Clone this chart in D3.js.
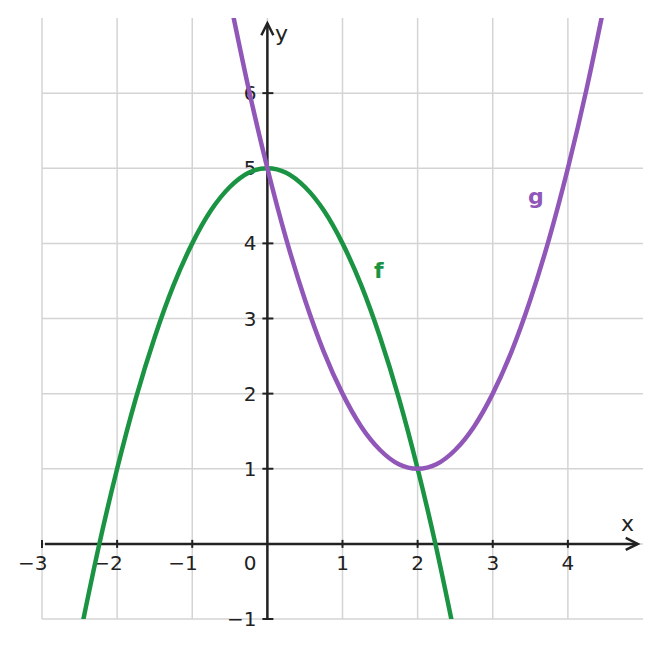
<!DOCTYPE html>
<html><head><meta charset="utf-8">
<script src="https://cdn.jsdelivr.net/npm/d3@7"></script>
<style>body{margin:0;background:#fff}svg{display:block}text{font-family:"DejaVu Sans",sans-serif}</style>
</head><body>
<svg id="c" width="661" height="648"></svg>
<script>
// data
const fX = [-2.5,-2.25,-2,-1.75,-1.5,-1.25,-1,-0.75,-0.5,-0.25,0,0.25,0.5,0.75,1,1.25,1.5,1.75,2,2.25,2.5];
const fY = [-1.25,-0.06,1,1.94,2.75,3.44,4,4.44,4.75,4.94,5,4.94,4.75,4.44,4,3.44,2.75,1.94,1,-0.06,-1.25];
const gX = [-0.5,-0.25,0,0.25,0.5,0.75,1,1.25,1.5,1.75,2,2.25,2.5,2.75,3,3.25,3.5,3.75,4,4.25,4.5];
const gY = [7.25,6.06,5,4.06,3.25,2.56,2,1.56,1.25,1.06,1,1.06,1.25,1.56,2,2.56,3.25,4.06,5,6.06,7.25];
const xTicks = [-3,-2,-1,1,2,3,4];
const yTicks = [-1,1,2,3,4,5,6];
const xGrid = [-3,-2,-1,0,1,2,3,4];
const yGrid = [-1,0,1,2,3,4,5,6];

const svg = d3.select("#c");
const x = d3.scaleLinear().domain([-3,5]).range([42,643]);
const y = d3.scaleLinear().domain([-1,7]).range([619,18]);
const ink = "#222";
const fs = 20;

// grid
svg.append("g").selectAll("line").data(xGrid).join("line")
  .attr("x1",d=>x(d)).attr("x2",d=>x(d)).attr("y1",y(-1)).attr("y2",y(7))
  .attr("stroke","#d4d4d4").attr("stroke-width",1.5);
svg.append("g").selectAll("line").data(yGrid).join("line")
  .attr("x1",x(-3)).attr("x2",x(5)).attr("y1",d=>y(d)).attr("y2",d=>y(d))
  .attr("stroke","#d4d4d4").attr("stroke-width",1.5);

// axes
const ax = svg.append("g").attr("stroke",ink).attr("stroke-width",2.5).attr("fill","none");
ax.append("line").attr("x1",x(-3)+3).attr("x2",x(4.93)).attr("y1",y(0)).attr("y2",y(0));
ax.append("line").attr("x1",x(0)).attr("x2",x(0)).attr("y1",y(-1)).attr("y2",y(6.93));
ax.append("path").attr("d",`M${x(4.93)-12},${y(0)-6}L${x(4.93)},${y(0)}L${x(4.93)-12},${y(0)+6}`);
ax.append("path").attr("d",`M${x(0)-6},${y(6.93)+12}L${x(0)},${y(6.93)}L${x(0)+6},${y(6.93)+12}`);
ax.selectAll(".xt").data(xTicks).join("line").attr("class","xt")
  .attr("x1",d=>x(d)).attr("x2",d=>x(d)).attr("y1",y(0)-4).attr("y2",y(0)+4).attr("stroke-width",2);
ax.selectAll(".yt").data(yTicks).join("line").attr("class","yt")
  .attr("x1",x(0)-5).attr("x2",x(0)+6).attr("y1",d=>y(d)).attr("y2",d=>y(d)).attr("stroke-width",2);

// tick labels
const fmt = d => d<0 ? "\u2212"+Math.abs(d) : String(d);
svg.append("g").selectAll("text").data(xTicks).join("text")
  .attr("x",d=> d<0 ? x(d)+5.5 : x(d)).attr("y",y(0)+26)
  .attr("text-anchor",d=>d<0?"end":"middle")
  .attr("font-size",fs).attr("fill",ink).text(fmt);
svg.append("text").attr("x",x(0)-11).attr("y",y(0)+26).attr("text-anchor","end")
  .attr("font-size",fs).attr("fill",ink).text("0");
svg.append("g").selectAll("text").data(yTicks).join("text")
  .attr("x",x(0)-11).attr("y",d=>y(d)+7).attr("text-anchor","end")
  .attr("font-size",fs).attr("fill",ink).text(fmt);

svg.append("text").attr("x",621).attr("y",531).attr("font-size",22).attr("fill",ink).text("x");
svg.append("text").attr("x",275).attr("y",41).attr("font-size",22).attr("fill",ink).text("y");

// curves
svg.append("defs").append("clipPath").attr("id","clip").append("rect")
  .attr("x",x(-3)).attr("y",y(7)).attr("width",x(5)-x(-3)).attr("height",y(-1)-y(7));
const line = d3.line().x(d=>x(d[0])).y(d=>y(d[1])).curve(d3.curveNatural);
const cg = svg.append("g").attr("clip-path","url(#clip)");
cg.append("path").attr("d",line(fX.map((v,i)=>[v,fY[i]])))
  .attr("fill","none").attr("stroke","#1a9443").attr("stroke-width",4.5);
cg.append("path").attr("d",line(gX.map((v,i)=>[v,gY[i]])))
  .attr("fill","none").attr("stroke","#9157b8").attr("stroke-width",4.5);

svg.append("text").attr("x",374).attr("y",278).attr("font-size",22).attr("font-weight","bold")
  .attr("fill","#1a9443").text("f");
svg.append("text").attr("x",528).attr("y",204).attr("font-size",22).attr("font-weight","bold")
  .attr("fill","#9157b8").text("g");
</script>
</body></html>
